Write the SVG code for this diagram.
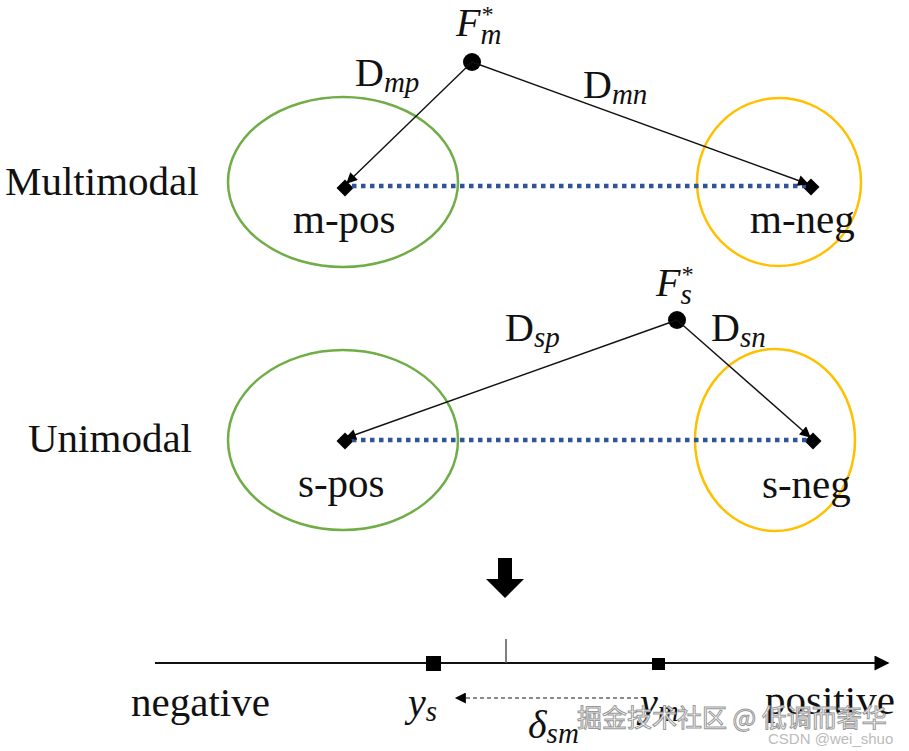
<svg xmlns="http://www.w3.org/2000/svg" width="909" height="751" viewBox="0 0 909 751">
<defs>
<marker id="ah" viewBox="0 0 10 10" refX="9" refY="5" markerWidth="13" markerHeight="11" markerUnits="userSpaceOnUse" orient="auto">
<path d="M0,0 L10,5 L0,10 z" fill="#000"/>
</marker>
<marker id="ah2" viewBox="0 0 10 10" refX="9" refY="5" markerWidth="16" markerHeight="15" markerUnits="userSpaceOnUse" orient="auto">
<path d="M0,0 L10,5 L0,10 z" fill="#000"/>
</marker>
<style>
text{font-family:"Liberation Serif","Times New Roman",serif;fill:#111}
.lab{font-size:41px}
.m{font-size:40px}
.it{font-style:italic}
.sub{font-size:29px;font-style:italic}
.gr{fill:none;stroke:#70AD47;stroke-width:2.5}
.or{fill:none;stroke:#FFC000;stroke-width:2.5}
.dot{stroke:#2F5597;stroke-width:4.5;stroke-dasharray:4.5 4.5;fill:none}
.con{stroke:#111;stroke-width:1.4;fill:none;marker-end:url(#ah)}
.dia{fill:#000}
</style>
</defs>
<rect width="909" height="751" fill="#fff"/>

<g id="multimodal-label"><text class="lab" x="5" y="195">Multimodal</text></g>
<g id="unimodal-label"><text class="lab" x="28" y="452">Unimodal</text></g>

<g id="m-pos">
<ellipse class="gr" cx="343" cy="182" rx="115" ry="85"/>
<rect class="dia" x="-6" y="-6" width="12" height="12" transform="translate(345,188) rotate(45)"/>
<text class="lab" x="293" y="233">m-pos</text>
</g>
<g id="m-neg">
<ellipse class="or" cx="779" cy="182" rx="82" ry="84"/>
<rect class="dia" x="-6" y="-6" width="12" height="12" transform="translate(811,187) rotate(45)"/>
<text class="lab" x="750" y="233">m-neg</text>
</g>
<g id="F_m">
<circle cx="472" cy="62" r="9" fill="#000"/>
<text x="456" y="36" class="m it">F<tspan font-size="24" dy="-14">*</tspan><tspan class="sub" dx="-12" dy="22">m</tspan></text>
</g>

<g id="s-pos">
<ellipse class="gr" cx="343" cy="440" rx="115" ry="90"/>
<rect class="dia" x="-6" y="-6" width="12" height="12" transform="translate(345,441) rotate(45)"/>
<text class="lab" x="298" y="497">s-pos</text>
</g>
<g id="s-neg">
<ellipse class="or" cx="775" cy="440" rx="80" ry="91"/>
<rect class="dia" x="-6" y="-6" width="12" height="12" transform="translate(813,441) rotate(45)"/>
<text class="lab" x="762" y="498">s-neg</text>
</g>
<g id="F_s">
<circle cx="677" cy="320" r="9" fill="#000"/>
<text x="656" y="296" class="m it">F<tspan font-size="24" dy="-14">*</tspan><tspan class="sub" dx="-12" dy="22">s</tspan></text>
</g>

<g id="connectors">
<line class="dot" x1="352" y1="186" x2="806" y2="186"/>
<line class="dot" x1="352" y1="440" x2="808" y2="440"/>
<line class="con" x1="472" y1="62" x2="347" y2="183"/>
<line class="con" x1="472" y1="62" x2="808" y2="184"/>
<line class="con" x1="677" y1="320" x2="346" y2="438"/>
<line class="con" x1="677" y1="320" x2="810" y2="437"/>
</g>

<g id="dist-labels">
<text class="m" x="355" y="86">D<tspan class="sub" dy="6">mp</tspan></text>
<text class="m" x="583" y="98">D<tspan class="sub" dy="6">mn</tspan></text>
<text class="m" x="505" y="341">D<tspan class="sub" dy="6">sp</tspan></text>
<text class="m" x="711" y="341">D<tspan class="sub" dy="6">sn</tspan></text>
</g>

<g id="down-arrow">
<path d="M498,558 H512 V579 H524 L505,598 L486,579 H498 Z" fill="#000"/>
</g>

<g id="axis">
<line x1="155" y1="663" x2="888" y2="663" stroke="#111" stroke-width="2" marker-end="url(#ah2)"/>
<line x1="506" y1="639" x2="506" y2="663" stroke="#555" stroke-width="1.5"/>
<rect x="426" y="656" width="15" height="15" fill="#000"/>
<rect x="652" y="658" width="13" height="12" fill="#000"/>
<line x1="638" y1="698" x2="456" y2="698" stroke="#666" stroke-width="1.5" stroke-dasharray="4 3" marker-end="url(#ah)"/>
<text class="lab" x="131" y="716">negative</text>
<text class="lab" x="765" y="714">positive</text>
<text class="m it" x="408" y="716">y<tspan class="sub" dy="5">s</tspan></text>
<text class="m it" x="640" y="716">y<tspan class="sub" dy="5">m</tspan></text>
<text class="m it" x="528" y="738">δ<tspan class="sub" dy="5">sm</tspan></text>
</g>

<g id="watermark">
<text x="577" y="727" font-size="25" fill="#fff" stroke="#999" stroke-width="1" style="font-family:'Noto Sans CJK SC',sans-serif;fill:#fff">掘金技术社区 @ 低调而奢华</text>
<text x="768" y="744" font-size="15" style="font-family:'Liberation Sans',Arial,sans-serif;fill:#bbb">CSDN @wei_shuo</text>
</g>
</svg>
